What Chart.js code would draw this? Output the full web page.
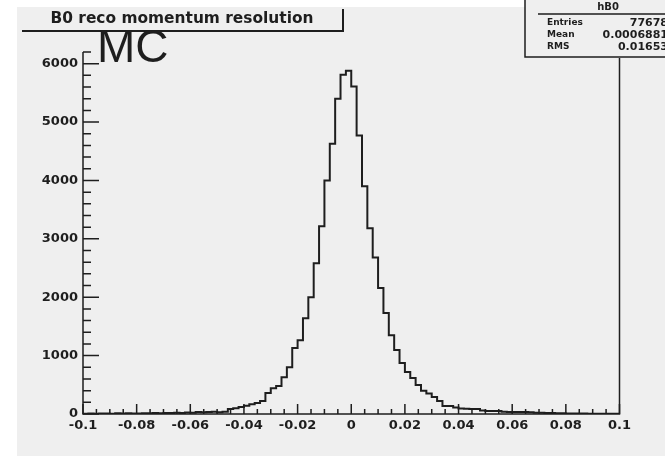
<!DOCTYPE html>
<html>
<head>
<meta charset="utf-8">
<script src="https://cdn.jsdelivr.net/npm/chart.js@4"></script>
<style>
  html, body { margin: 0; padding: 0; background: #ffffff; }
  #wrap { width: 665px; height: 456px; }
</style>
</head>
<body>
<div id="wrap"><canvas id="hist" width="665" height="456"></canvas></div>
<script>
// histogram hB0: 100 bins from -0.1 to 0.1
const xMin = -0.1;
const xMax = 0.1;
const binWidth = 0.002;
const binValues = [
  4, 6, 8, 5, 10, 8, 6, 12, 10, 12,
  10, 9, 14, 12, 16, 12, 18, 15, 20, 16,
  24, 20, 35, 28, 35, 38, 30, 40, 85, 100,
  120, 140, 165, 190, 222, 360, 440, 480, 630, 800,
  1130, 1265, 1640, 2000, 2580, 3214, 4000, 4630, 5400, 5810,
  5880, 5607, 4770, 3900, 3180, 2680, 2160, 1730, 1350, 1094,
  872, 718, 615, 496, 400, 350, 290, 222, 137, 137,
  110, 95, 90, 85, 85, 60, 50, 50, 50, 40,
  35, 35, 35, 35, 28, 22, 20, 18, 15, 14,
  12, 10, 10, 8, 8, 6, 6, 5, 4, 4
];
const xTickValues = [-0.1, -0.08, -0.06, -0.04, -0.02, 0, 0.02, 0.04, 0.06, 0.08, 0.1];
const xTickLabels = ["-0.1", "-0.08", "-0.06", "-0.04", "-0.02", "0", "0.02", "0.04", "0.06", "0.08", "0.1"];
const yTickValues = [0, 1000, 2000, 3000, 4000, 5000, 6000];
const yTickLabels = ["0", "1000", "2000", "3000", "4000", "5000", "6000"];
const yMax = 6200;

const titleText = "B0 reco momentum resolution";
const statsName = "hB0";
const statsLabels = ["Entries", "Mean", "RMS"];
const statsValues = ["77678", "0.0006881", "0.01653"];
const sampleLabel = "MC";

// step outline: one point per lower bin edge, plus the closing edge
const points = binValues.map((v, i) => ({ x: xMin + i * binWidth, y: v }));
points.push({ x: xMax, y: binValues[binValues.length - 1] });

const ink = "#1e1e1e";
const tickFont = { family: "DejaVu Sans", weight: "bold", size: 13 };

// ROOT style pieces: grey pad, inward ticks, title pave, stats box
const rootStyle = {
  id: "rootStyle",
  beforeDraw(chart) {
    const ctx = chart.ctx;
    ctx.save();
    ctx.fillStyle = "#ffffff";
    ctx.fillRect(0, 0, chart.width, chart.height);
    ctx.fillStyle = "#efefef";
    ctx.fillRect(17, 7, chart.width - 17, chart.height - 7);
    ctx.restore();
  },
  afterDraw(chart) {
    const ctx = chart.ctx;
    const xs = chart.scales.x;
    const ys = chart.scales.y;
    const a = chart.chartArea;
    ctx.save();
    ctx.strokeStyle = ink;
    ctx.lineWidth = 1.5;

    // axes + right frame edge
    ctx.beginPath();
    ctx.moveTo(a.left, a.top);
    ctx.lineTo(a.left, a.bottom);
    ctx.lineTo(a.right, a.bottom);
    ctx.lineTo(a.right, 58);
    ctx.stroke();

    // x ticks, pointing up
    ctx.beginPath();
    for (let i = 0; i <= 40; i++) {
      const px = xs.getPixelForValue(xMin + i * 0.005);
      const len = i % 4 === 0 ? 10 : 5;
      ctx.moveTo(px, a.bottom);
      ctx.lineTo(px, a.bottom - len);
    }
    // y ticks, pointing right
    for (let v = 0; v <= yMax; v += 200) {
      const py = ys.getPixelForValue(v);
      const len = v % 1000 === 0 ? 16 : 8;
      ctx.moveTo(a.left, py);
      ctx.lineTo(a.left + len, py);
    }
    ctx.stroke();

    // title pave
    ctx.lineWidth = 2;
    ctx.beginPath();
    ctx.moveTo(22, 31);
    ctx.lineTo(343, 31);
    ctx.lineTo(343, 9);
    ctx.stroke();
    ctx.fillStyle = ink;
    ctx.font = "bold 16px 'DejaVu Sans'";
    ctx.textBaseline = "middle";
    const tw = ctx.measureText(titleText).width;
    ctx.save();
    ctx.translate(182, 19);
    ctx.scale(263 / tw, 1);
    ctx.textAlign = "center";
    ctx.fillText(titleText, 0, 0);
    ctx.restore();

    // stats box
    ctx.fillStyle = "#efefef";
    ctx.fillRect(525, 0, 140, 57);
    ctx.lineWidth = 1.5;
    ctx.beginPath();
    ctx.moveTo(525, 0);
    ctx.lineTo(525, 57);
    ctx.lineTo(665, 57);
    ctx.moveTo(538, 14);
    ctx.lineTo(665, 14);
    ctx.stroke();
    ctx.fillStyle = ink;
    ctx.font = "bold 10px 'DejaVu Sans'";
    ctx.textAlign = "center";
    ctx.fillText(statsName, 608, 7);
    statsLabels.forEach((lab, i) => {
      const y = 23 + i * 12;
      ctx.font = "bold 9px 'DejaVu Sans'";
      ctx.textAlign = "left";
      ctx.fillText(lab, 547, y);
      ctx.font = "bold 11px 'DejaVu Sans'";
      ctx.textAlign = "right";
      ctx.fillText(statsValues[i], 668, y);
    });

    // sample label
    ctx.font = "46px 'Liberation Sans'";
    ctx.textAlign = "left";
    ctx.textBaseline = "alphabetic";
    ctx.fillText(sampleLabel, 97, 62);
    ctx.restore();
  }
};

new Chart(document.getElementById("hist"), {
  type: "line",
  data: {
    datasets: [{
      label: statsName,
      data: points,
      stepped: "after",
      borderColor: ink,
      borderWidth: 2,
      pointRadius: 0,
      fill: false
    }]
  },
  options: {
    responsive: false,
    animation: false,
    layout: { padding: { top: 52, right: 45.5, left: 0, bottom: 0 } },
    plugins: { legend: { display: false }, tooltip: { enabled: false } },
    scales: {
      x: {
        type: "linear",
        min: xMin,
        max: xMax,
        afterBuildTicks: (s) => { s.ticks = xTickValues.map((v) => ({ value: v })); },
        afterFit: (s) => { s.height = 42; },
        grid: { display: false, drawTicks: false },
        border: { display: false },
        ticks: {
          callback: (v, i) => xTickLabels[i],
          font: tickFont,
          color: ink,
          padding: 4,
          maxRotation: 0,
          autoSkip: false
        }
      },
      y: {
        min: 0,
        max: yMax,
        afterBuildTicks: (s) => { s.ticks = yTickValues.map((v) => ({ value: v })); },
        afterFit: (s) => { s.width = 83; },
        grid: { display: false, drawTicks: false },
        border: { display: false },
        ticks: {
          callback: (v, i) => yTickLabels[i],
          font: tickFont,
          color: ink,
          padding: 5
        }
      }
    }
  },
  plugins: [rootStyle]
});
</script>
</body>
</html>
